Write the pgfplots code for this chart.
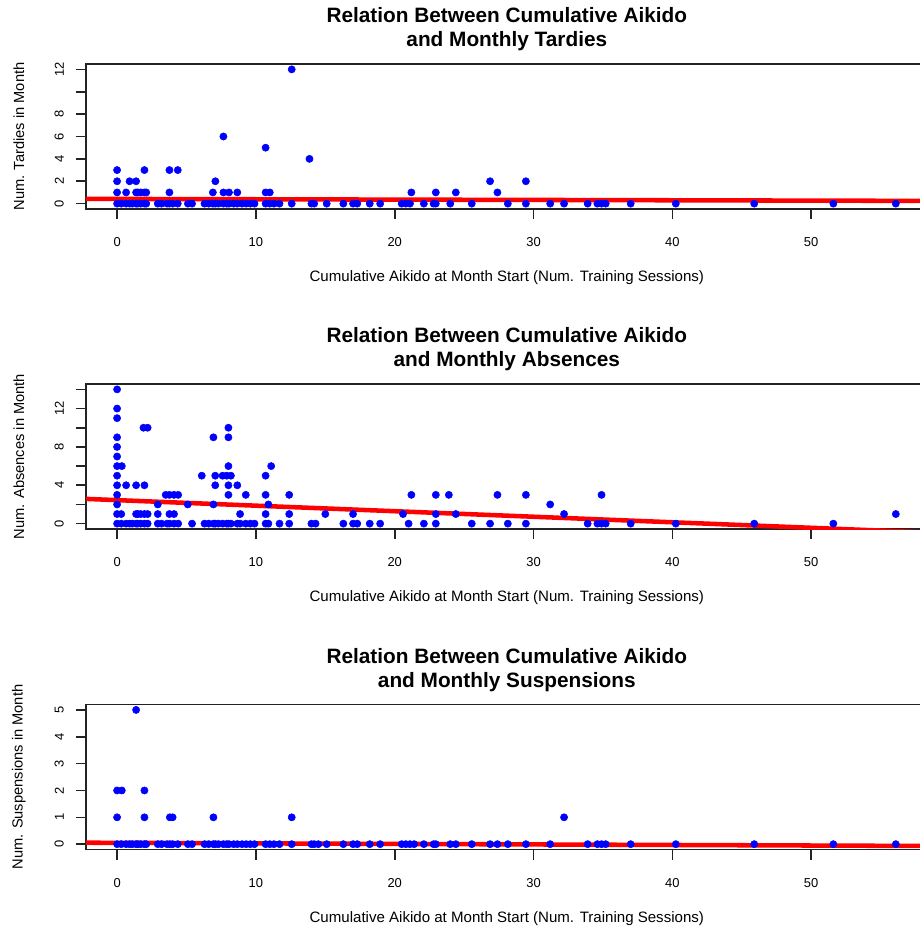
\documentclass[border=0pt]{standalone}
\usepackage{fontspec}
\setmainfont{Liberation Sans}
\usepackage{pgfplots}
\pgfplotsset{compat=1.18}
\definecolor{rblue}{RGB}{0,0,255}
\definecolor{rred}{RGB}{255,0,0}
\definecolor{axisgray}{RGB}{35,35,35}
\pgfplotsset{
  rpanel/.style={
    scale only axis,
    width=631.4pt, height=108.75pt,
    xmin=-2.25, xmax=58.4,
    xtick={0,10,20,30,40,50},
    tick pos=left,
    tick align=outside,
    major tick length=7.5pt,
    axis line style={axisgray, line width=1.2pt},
    every tick/.style={axisgray, line width=1.2pt},
    /pgf/number format/assume math mode=true,
    ticklabel style={font=\fontsize{9.7}{10}\selectfont, inner sep=0pt},
    xticklabel style={anchor=north},
    xticklabel shift=14pt,
    yticklabel style={rotate=90, anchor=south},
    yticklabel shift=8.8pt,
    title style={font=\bfseries\fontsize{15.6}{18}\selectfont, align=center,
      at={(axis description cs:0.5,1)}, anchor=south, inner sep=0pt, yshift=3.4pt},
    xlabel style={font=\fontsize{11.3}{13}\selectfont,
      at={(axis description cs:0.5,-0.476)}, anchor=center},
    ylabel style={font=\fontsize{11}{13}\selectfont,
      at={(axis description cs:-0.0795,0.5)}, anchor=center},
    xlabel={Cumulative Aikido at Month Start (Num. Training Sessions)},
  },
  rpts/.style={only marks, mark=*, mark size=2.7pt, color=rblue,
    mark options={draw=rblue, fill=rblue}},
  rfit/.style={rred, line width=3.4pt, no marks},
}
\begin{document}
\begin{tikzpicture}
\useasboundingbox (0,0) rectangle (690pt,-696pt);
% ---------------- Panel 1: Tardies ----------------
\begin{axis}[rpanel, at={(64.4pt,-48pt)}, anchor=north west,
  ymin=-0.48, ymax=12.48,
  ytick={0,2,4,6,8,10,12}, yticklabels={0,2,4,6,8,,12},
  title={Relation Between Cumulative Aikido\\and Monthly Tardies},
  ylabel={Num. Tardies in Month}]
\addplot[rpts] coordinates {
(0,0)(0,1)(0,2)(0,3)(0.3,0)(0.65,0)(0.65,1)(0.9,0)(0.9,2)(1.1,0)(1.37,0)(1.37,1)(1.37,2)
(1.5,0)(1.5,1)(1.7,0)(1.7,1)(1.97,0)(1.97,1)(1.97,3)(2.1,0)(2.1,1)(2.93,0)(3.2,0)(3.6,0)
(3.77,0)(3.77,1)(3.77,3)(4.0,0)(4.37,0)(4.37,3)(5.1,0)(5.4,0)(6.3,0)(6.6,0)(6.9,0)(6.9,1)
(7.08,0)(7.08,2)(7.3,0)(7.66,0)(7.66,1)(7.66,6)(7.9,0)(8.06,0)(8.06,1)(8.4,0)(8.66,0)(8.66,1)
(9.0,0)(9.3,0)(9.6,0)(9.9,0)(10.7,0)(10.7,1)(10.7,5)(11.0,0)(11.0,1)(11.3,0)(11.7,0)
(12.58,0)(12.58,12)(13.86,4)(14.0,0)(14.2,0)(15.1,0)(16.3,0)(17.0,0)(17.3,0)(18.2,0)(18.95,0)
(20.5,0)(20.8,0)(21.1,0)(21.2,1)(22.1,0)(22.8,0)(22.96,0)(22.96,1)(24.0,0)(24.4,1)(25.55,0)
(26.87,2)(27.4,1)(28.15,0)(29.45,0)(29.45,2)(31.2,0)(32.2,0)(33.9,0)(34.6,0)(34.9,0)(35.2,0)
(37.0,0)(40.25,0)(45.9,0)(51.6,0)(56.1,0)
};
\addplot[rfit] coordinates {(-2.25,0.427)(58.4,0.245)};
\end{axis}
% ---------------- Panel 2: Absences ----------------
\begin{axis}[rpanel, at={(64.4pt,-288pt)}, anchor=north west,
  ymin=-0.56, ymax=14.56,
  ytick={0,2,4,6,8,10,12,14}, yticklabels={0,,4,,8,,12,},
  title={Relation Between Cumulative Aikido\\and Monthly Absences},
  ylabel={Num. Absences in Month}]
\addplot[rpts] coordinates {
(0,0)(0,1)(0,2)(0,3)(0,4)(0,5)(0,6)(0,7)(0,8)(0,9)(0,11)(0,12)(0,14)
(0.3,0)(0.3,1)(0.34,6)(0.65,0)(0.65,4)(0.9,0)(1.1,0)(1.37,0)(1.37,1)(1.37,4)(1.5,0)(1.5,1)
(1.7,0)(1.7,1)(1.9,10)(1.97,0)(1.97,1)(1.97,4)(2.2,10)(2.2,0)(2.2,1)(2.93,0)(2.93,1)(2.93,2)
(3.2,0)(3.5,3)(3.6,0)(3.77,0)(3.77,1)(3.77,3)(4.1,0)(4.1,1)(4.1,3)(4.4,3)(4.4,0)(5.09,2)
(5.4,0)(6.1,5)(6.3,0)(6.6,0)(6.94,0)(6.94,2)(6.94,9)(7.07,0)(7.07,4)(7.07,5)(7.3,0)(7.6,0)
(7.6,5)(7.9,0)(7.9,5)(8.02,0)(8.02,3)(8.02,4)(8.02,6)(8.02,9)(8.02,10)(8.2,0)(8.2,5)(8.66,0)
(8.66,4)(8.86,0)(8.86,1)(9.27,0)(9.27,3)(9.6,0)(9.9,0)(10.7,0)(10.7,1)(10.7,3)(10.7,5)
(10.9,0)(10.9,2)(11.1,6)(11.7,0)(12.4,0)(12.4,1)(12.4,3)(14.0,0)(14.3,0)(15.0,1)(16.3,0)
(17.0,0)(17.0,1)(17.3,0)(18.2,0)(18.95,0)(20.6,1)(21.0,0)(21.2,3)(22.1,0)(22.96,0)(22.96,1)
(22.96,3)(23.9,3)(24.4,1)(25.55,0)(26.87,0)(27.4,3)(28.15,0)(29.45,0)(29.45,3)(31.2,2)
(32.2,1)(33.9,0)(34.6,0)(34.9,0)(34.9,3)(35.2,0)(37.0,0)(40.25,0)(45.9,0)(51.6,0)(56.1,1)
};
\addplot[rfit] coordinates {(-2.25,2.58)(58.4,-0.92)};
\end{axis}
% ---------------- Panel 3: Suspensions ----------------
\begin{axis}[rpanel, at={(64.4pt,-528.4pt)}, anchor=north west,
  ymin=-0.2, ymax=5.2,
  ytick={0,1,2,3,4,5},
  title={Relation Between Cumulative Aikido\\and Monthly Suspensions},
  ylabel={Num. Suspensions in Month}]
\addplot[rpts] coordinates {
(0,0)(0,1)(0,2)(0.3,0)(0.34,2)(0.65,0)(0.9,0)(1.1,0)(1.37,0)(1.37,5)(1.5,0)(1.7,0)
(1.97,0)(1.97,1)(1.97,2)(2.1,0)(2.93,0)(3.2,0)(3.6,0)(3.8,0)(3.8,1)(4.0,0)(4.0,1)(4.37,0)
(5.1,0)(5.4,0)(6.3,0)(6.6,0)(6.94,0)(6.94,1)(7.08,0)(7.3,0)(7.66,0)(7.9,0)(8.06,0)(8.4,0)
(8.66,0)(9.0,0)(9.3,0)(9.6,0)(9.9,0)(10.7,0)(11.0,0)(11.3,0)(11.7,0)(12.58,0)(12.58,1)
(14.0,0)(14.2,0)(14.5,0)(15.1,0)(16.3,0)(17.0,0)(17.3,0)(18.2,0)(18.95,0)(20.5,0)(20.8,0)
(21.1,0)(21.4,0)(22.1,0)(22.8,0)(22.96,0)(24.0,0)(24.4,0)(25.55,0)(26.87,0)(27.4,0)(28.15,0)
(29.45,0)(31.2,0)(32.2,1)(33.9,0)(34.6,0)(34.9,0)(35.2,0)(37.0,0)(40.25,0)(45.9,0)(51.6,0)
(56.1,0)
};
\addplot[rfit] coordinates {(-2.25,0.0545)(58.4,-0.067)};
\end{axis}
\end{tikzpicture}
\end{document}
